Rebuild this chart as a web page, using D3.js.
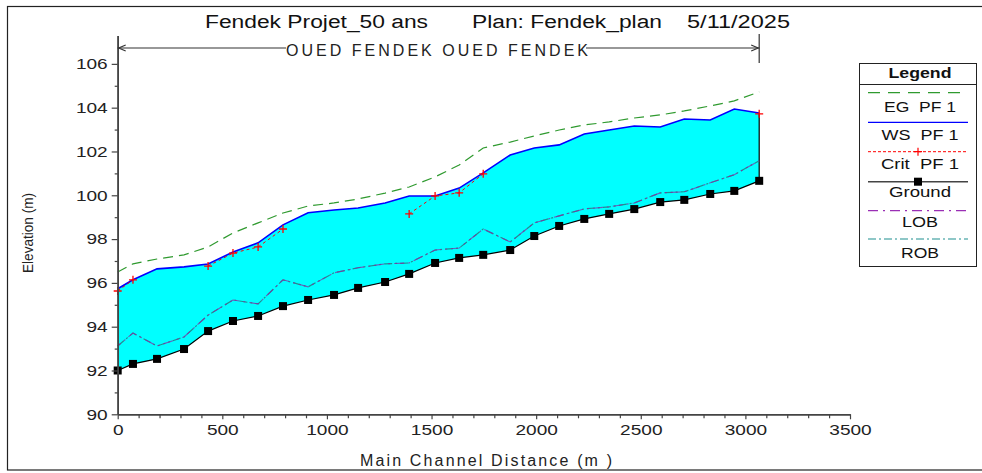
<!DOCTYPE html>
<html>
<head>
<meta charset="utf-8">
<script src="https://cdn.jsdelivr.net/npm/d3@7"></script>
<style>
  html, body { margin: 0; padding: 0; background: #fff; }
  svg { display: block; font-family: "Liberation Sans", Arial, sans-serif; }
</style>
</head>
<body>
<svg id="chart" width="982" height="473"></svg>
<script>
// Profile stations along the main channel (m)
const distance = [0, 73, 188, 317, 432, 551, 671, 790, 910, 1034, 1149, 1278, 1393, 1517,
  1632, 1747, 1876, 1991, 2110, 2230, 2349, 2469, 2593, 2708, 2832, 2947, 3066];

// Energy grade, water surface, critical depth, channel bed, bank elevations (m)
const egPF1 = [96.50, 96.87, 97.09, 97.28, 97.64, 98.28, 98.74, 99.19, 99.51, 99.65, 99.83,
  100.10, 100.38, 100.84, 101.38, 102.16, 102.43, 102.71, 102.98, 103.21, 103.35, 103.53,
  103.67, 103.85, 104.08, 104.31, 104.72];
const wsPF1 = [95.73, 96.14, 96.64, 96.73, 96.86, 97.41, 97.83, 98.65, 99.20, 99.33, 99.42,
  99.65, 99.97, 99.97, 100.33, 101.02, 101.84, 102.16, 102.30, 102.80, 102.98, 103.16,
  103.12, 103.48, 103.44, 103.94, 103.76];
const critPF1 = [95.63, 96.14, null, null, 96.77, 97.36, 97.64, 98.46, null, null, null,
  null, 99.15, 99.97, 100.11, 100.98, null, null, null, null, null, null,
  null, null, null, null, 103.72];
const ground = [92.00, 92.30, 92.53, 92.98, 93.80, 94.26, 94.49, 94.94, 95.22, 95.45, 95.77,
  96.04, 96.41, 96.91, 97.14, 97.28, 97.50, 98.14, 98.60, 98.92, 99.15, 99.37,
  99.69, 99.79, 100.06, 100.20, 100.66];
const lob = [93.12, 93.71, 93.12, 93.53, 94.53, 95.22, 95.04, 96.14, 95.82, 96.46, 96.69,
  96.87, 96.91, 97.50, 97.59, 98.46, 97.87, 98.74, 99.06, 99.38, 99.47, 99.65,
  100.11, 100.16, 100.57, 100.94, 101.58];
const rob = [93.12, 93.71, 93.12, 93.53, 94.53, 95.22, 95.04, 96.14, 95.82, 96.46, 96.69,
  96.87, 96.91, 97.50, 97.59, 98.46, 97.87, 98.74, 99.06, 99.38, 99.47, 99.65,
  100.11, 100.16, 100.57, 100.94, 101.58];

const xMajorTicks = [0, 500, 1000, 1500, 2000, 2500, 3000, 3500];
const yMajorTicks = [90, 92, 94, 96, 98, 100, 102, 104, 106];

const titleParts = ["Fendek Projet_50 ans", "Plan: Fendek_plan", "5/11/2025"];
const reachLabel = "OUED FENDEK OUED FENDEK";
const xTitle = "Main Channel Distance (m )";
const yTitle = "Elevation (m)";
const legendTitle = "Legend";
const legendItems = ["EG  PF 1", "WS  PF 1", "Crit  PF 1", "Ground", "LOB", "ROB"];

const svg = d3.select("#chart");

const x = d3.scaleLinear().domain([0, 3500]).range([117.7, 850]);
const y = d3.scaleLinear().domain([90, 107.3]).range([414.3, 35.4]);

const axisColor = "#444";

// outer frame
svg.append("rect").attr("x", 7.5).attr("y", 6.5).attr("width", 990).attr("height", 463.5)
  .attr("fill", "none").attr("stroke", "#222").attr("stroke-width", 1.2);

// title
const titleX = [205, 472, 687];
const titleW = [223, 190, 103];
titleParts.forEach((t, i) => {
  svg.append("text").attr("x", titleX[i]).attr("y", 28)
    .attr("font-family", "'Liberation Sans Narrow', 'Arial Narrow', 'Liberation Sans', sans-serif")
    .attr("font-size", 18).attr("fill", "#111")
    .attr("textLength", titleW[i]).attr("lengthAdjust", "spacingAndGlyphs")
    .text(t);
});

const rows = distance.map((d, i) => ({
  d, eg: egPF1[i], ws: wsPF1[i], crit: critPF1[i], g: ground[i], lob: lob[i], rob: rob[i]
}));

// water area between bed and water surface
svg.append("path").datum(rows)
  .attr("fill", "#00FFFF")
  .attr("d", d3.area().x(r => x(r.d)).y0(r => y(r.g)).y1(r => y(r.ws)));

// closing line at the downstream end
const last = rows[rows.length - 1];
svg.append("line").attr("x1", x(last.d)).attr("x2", x(last.d))
  .attr("y1", y(last.ws)).attr("y2", y(last.g)).attr("stroke", "#000").attr("stroke-width", 1.2);

const line = key => d3.line().defined(r => r[key] != null).x(r => x(r.d)).y(r => y(r[key]));

// bank lines
svg.append("path").datum(rows).attr("fill", "none").attr("stroke", "#1f8f8f")
  .attr("stroke-width", 1.2).attr("stroke-dasharray", "8,3,2,3").attr("d", line("rob"));
svg.append("path").datum(rows).attr("fill", "none").attr("stroke", "#8a2aa8")
  .attr("stroke-width", 1.1).attr("stroke-dasharray", "10,4,2,4").attr("stroke-dashoffset", 6)
  .attr("opacity", 0.75).attr("d", line("lob"));

// ground
svg.append("path").datum(rows).attr("fill", "none").attr("stroke", "#000")
  .attr("stroke-width", 1.2).attr("d", line("g"));
svg.selectAll("rect.gpt").data(rows).join("rect").attr("class", "gpt")
  .attr("x", r => x(r.d) - 4).attr("y", r => y(r.g) - 4)
  .attr("width", 8).attr("height", 8).attr("fill", "#000");

// water surface
svg.append("path").datum(rows).attr("fill", "none").attr("stroke", "#0000FF")
  .attr("stroke-width", 1.6).attr("d", line("ws"));

// critical depth
svg.append("path").datum(rows).attr("fill", "none").attr("stroke", "#FF0000")
  .attr("stroke-width", 1).attr("stroke-dasharray", "3,3").attr("d", line("crit"));
const critPts = rows.filter(r => r.crit != null);
svg.selectAll("path.cpt").data(critPts).join("path").attr("class", "cpt")
  .attr("d", r => `M${x(r.d) - 4},${y(r.crit)}h8M${x(r.d)},${y(r.crit) - 4}v8`)
  .attr("stroke", "#FF0000").attr("stroke-width", 1.3);

// energy grade
svg.append("path").datum(rows).attr("fill", "none").attr("stroke", "#2f9a2f")
  .attr("stroke-width", 1.2).attr("stroke-dasharray", "10,6").attr("d", line("eg"));

// axes
const yAxis = svg.append("g").attr("transform", "translate(117.7,0)");
yAxis.call(d3.axisLeft(y).tickValues(yMajorTicks).tickFormat(d3.format("d"))
  .tickSize(6).tickSizeOuter(0).tickPadding(4));
const yMinor = svg.append("g").attr("transform", "translate(117.7,0)");
yMinor.call(d3.axisLeft(y).tickValues(d3.range(91, 107, 2)).tickSize(3).tickSizeOuter(0).tickFormat(""));

const xAxis = svg.append("g").attr("transform", "translate(0,414.3)");
xAxis.call(d3.axisBottom(x).tickValues(xMajorTicks).tickFormat(d3.format("d"))
  .tickSize(5).tickSizeOuter(0).tickPadding(5));
const xMinor = svg.append("g").attr("transform", "translate(0,414.3)");
xMinor.call(d3.axisBottom(x).tickValues(d3.range(100, 3500, 100).filter(v => v % 500 !== 0))
  .tickSize(4).tickSizeOuter(0).tickFormat(""));

[yAxis, yMinor, xAxis, xMinor].forEach(g => {
  g.select(".domain").attr("stroke", axisColor).attr("stroke-width", 1.6);
  g.selectAll(".tick line").attr("stroke", axisColor).attr("stroke-width", 1.2);
  g.selectAll(".tick text").attr("font-size", 15).attr("fill", "#222")
    .attr("font-family", "'Liberation Sans', Arial, sans-serif")
    .attr("lengthAdjust", "spacingAndGlyphs")
    .attr("textLength", function () { return this.textContent.length * 10.6; });
});

// axis titles
svg.append("text").attr("x", 486).attr("y", 466).attr("text-anchor", "middle")
  .attr("font-size", 16).attr("fill", "#222")
  .attr("textLength", 252).attr("lengthAdjust", "spacing").text(xTitle);
svg.append("text").attr("transform", "translate(33,233) rotate(-90)").attr("text-anchor", "middle")
  .attr("font-size", 14).attr("fill", "#222")
  .attr("textLength", 80).attr("lengthAdjust", "spacingAndGlyphs").text(yTitle);

// reach extent marker
const x0 = x(distance[0]), x1 = x(last.d), ry = 48;
svg.append("line").attr("x1", x0).attr("x2", x1).attr("y1", ry).attr("y2", ry)
  .attr("stroke", "#333").attr("stroke-width", 1.2);
svg.append("path").attr("d", `M${x0 + 8},${ry - 3}L${x0 + 1},${ry}L${x0 + 8},${ry + 3}`)
  .attr("fill", "none").attr("stroke", "#333").attr("stroke-width", 1.2);
svg.append("path").attr("d", `M${x1 - 8},${ry - 3}L${x1 - 1},${ry}L${x1 - 8},${ry + 3}`)
  .attr("fill", "none").attr("stroke", "#333").attr("stroke-width", 1.2);
svg.append("line").attr("x1", x1).attr("x2", x1).attr("y1", 34).attr("y2", 63)
  .attr("stroke", "#333").attr("stroke-width", 1.2);
svg.append("rect").attr("x", 286).attr("y", 42).attr("width", 300).attr("height", 14).attr("fill", "#fff");
svg.append("text").attr("x", 286).attr("y", 56).attr("font-size", 16).attr("fill", "#222")
  .attr("textLength", 302).attr("lengthAdjust", "spacing").text(reachLabel);

// legend
const lg = svg.append("g");
const lx0 = 859, lx1 = 976, ly0 = 63, ly1 = 266;
lg.append("rect").attr("x", lx0 + 0.5).attr("y", ly0 + 0.5).attr("width", lx1 - lx0).attr("height", ly1 - ly0)
  .attr("fill", "#fff").attr("stroke", "#222").attr("stroke-width", 1);
lg.append("line").attr("x1", lx0).attr("x2", lx1).attr("y1", 84.5).attr("y2", 84.5)
  .attr("stroke", "#222").attr("stroke-width", 1);
const lcx = 920;
lg.append("text").attr("x", lcx).attr("y", 77.5).attr("text-anchor", "middle")
  .attr("font-size", 14).attr("font-weight", "bold").attr("fill", "#111")
  .attr("textLength", 63).attr("lengthAdjust", "spacingAndGlyphs").text(legendTitle);

const legLineY = [92.7, 122.3, 151.7, 181.7, 210.7, 239];
const legTextY = [111.5, 140, 168.5, 196.5, 226.5, 258];
const legTextW = [72, 77, 78, 62, 36, 38];
const legStyle = [
  { stroke: "#2f9a2f", dash: "12,8", w: 1.2 },
  { stroke: "#0000FF", dash: null, w: 1.2 },
  { stroke: "#FF0000", dash: "3,2", w: 1 },
  { stroke: "#444", dash: null, w: 1.6 },
  { stroke: "#9a2fb5", dash: "10,5,2,5", w: 1.2 },
  { stroke: "#1f8f8f", dash: "8,3,2,3", w: 1.2 }
];
const llx0 = 868, llx1 = 968;
legendItems.forEach((name, i) => {
  const s = legStyle[i];
  lg.append("line").attr("x1", llx0).attr("x2", llx1).attr("y1", legLineY[i]).attr("y2", legLineY[i])
    .attr("stroke", s.stroke).attr("stroke-width", s.w).attr("stroke-dasharray", s.dash);
  lg.append("text").attr("x", lcx).attr("y", legTextY[i]).attr("text-anchor", "middle")
    .attr("font-size", 14).attr("fill", "#111")
    .attr("textLength", legTextW[i]).attr("lengthAdjust", "spacingAndGlyphs")
    .style("white-space", "pre").text(name);
});
const mx = (llx0 + llx1) / 2;
lg.append("path").attr("d", `M${mx - 4},${legLineY[2]}h8M${mx},${legLineY[2] - 4}v8`)
  .attr("stroke", "#FF0000").attr("stroke-width", 1.2);
lg.append("rect").attr("x", mx - 4).attr("y", legLineY[3] - 4).attr("width", 8).attr("height", 8)
  .attr("fill", "#000");
</script>
</body>
</html>
